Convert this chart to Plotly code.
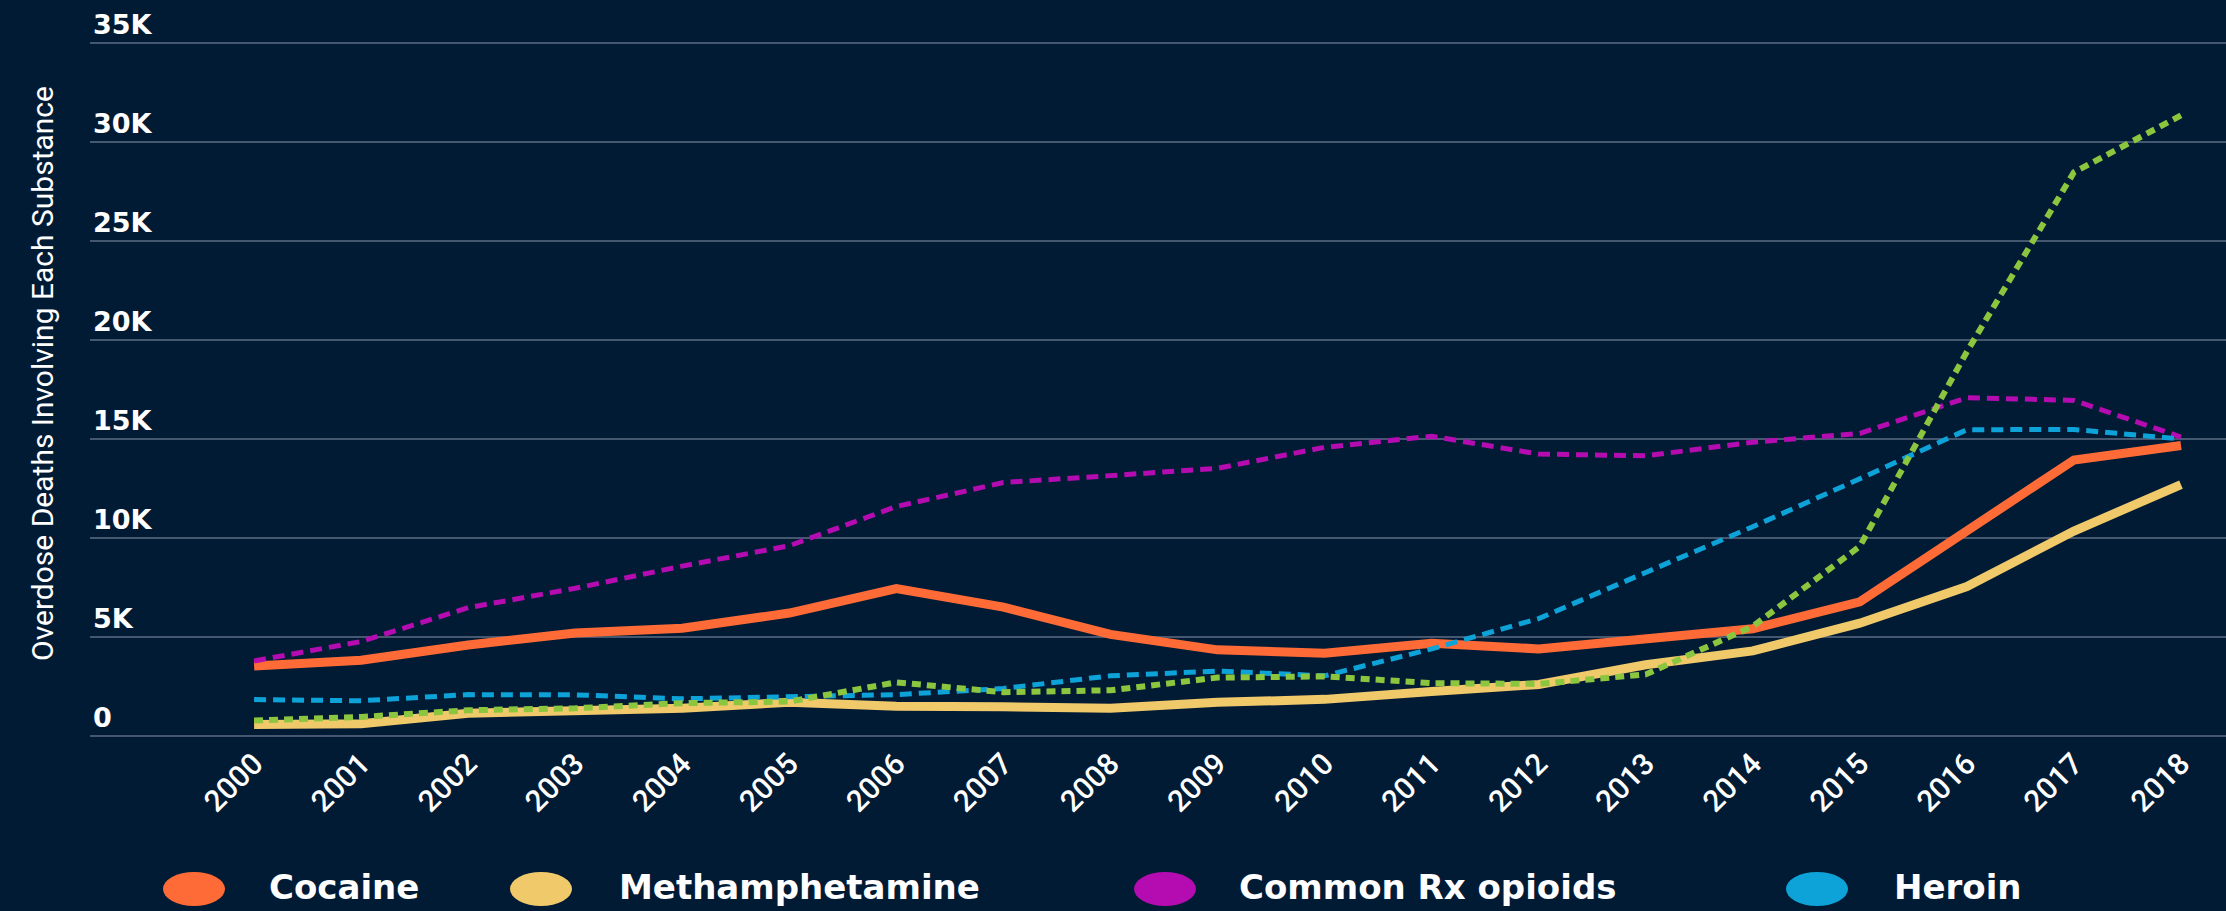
import plotly.graph_objects as go

# overdose deaths involving each substance
YEARS = list(range(2000, 2019))

COCAINE = [3540, 3830, 4600, 5200, 5440, 6210, 7450, 6510, 5130, 4350,
           4180, 4680, 4400, 4940, 5420, 6780, 10380, 13940, 14670]
METH = [580, 620, 1150, 1300, 1400, 1700, 1500, 1480, 1400, 1700,
        1850, 2250, 2600, 3600, 4300, 5700, 7550, 10350, 12700]
RX_OPIOIDS = [3790, 4770, 6480, 7460, 8580, 9610, 11590, 12800, 13150, 13520,
              14580, 15140, 14240, 14150, 14840, 15280, 17090, 16950, 15100]
HEROIN = [1840, 1780, 2090, 2080, 1880, 2010, 2090, 2400, 3040, 3280,
          3040, 4400, 5930, 8260, 10570, 12990, 15470, 15480, 15000]
SYNTHETIC = [780, 960, 1300, 1400, 1660, 1740, 2710, 2210, 2310, 2950,
             3010, 2670, 2630, 3110, 5540, 9580, 19410, 28470, 31340]

Y_TICKS = [0, 5000, 10000, 15000, 20000, 25000, 30000, 35000]
Y_TICK_LABELS = ["0", "5K", "10K", "15K", "20K", "25K", "30K", "35K"]

LEGEND_NAMES = ["Cocaine", "Methamphetamine", "Common Rx opioids", "Heroin"]


################################################################################
#### Style
################################################################################

BG = "#021b35"
GRID = "#465870"
WIDTH, HEIGHT = 2226, 911
MARGIN = dict(l=90, r=0, t=8, b=172)

SERIES_STYLE = {
    "Cocaine": dict(color="#ff6b36", width=9, dash="solid"),
    "Methamphetamine": dict(color="#f0c96a", width=9, dash="solid"),
    "Common Rx opioids": dict(color="#b40cb0", width=5, dash="12px,7px"),
    "Heroin": dict(color="#0ea3d8", width=5, dash="12px,7px"),
    "Synthetic opioids": dict(color="#8cc63f", width=6, dash="9px,6px"),
}

# pixel layout of the hand made legend row
LEGEND_DOT_X = [194, 541, 1165, 1817]
LEGEND_TEXT_X = [267, 617, 1237, 1892]
LEGEND_Y = 887


def _paper_x(px: float) -> float:
    return (px - MARGIN["l"]) / (WIDTH - MARGIN["l"] - MARGIN["r"])


def _paper_y(py: float) -> float:
    plot_h = HEIGHT - MARGIN["t"] - MARGIN["b"]
    return (HEIGHT - MARGIN["b"] - py) / plot_h


def _line(name: str, values: list[int]) -> go.Scatter:
    return go.Scatter(
        x=YEARS,
        y=values,
        name=name,
        mode="lines",
        line=dict(**SERIES_STYLE[name]),
        showlegend=False,
    )


fig = go.Figure(
    data=[
        _line("Cocaine", COCAINE),
        _line("Methamphetamine", METH),
        _line("Common Rx opioids", RX_OPIOIDS),
        _line("Heroin", HEROIN),
        _line("Synthetic opioids", SYNTHETIC),
    ]
)

# legend: wide dots + labels below the year ticks
for name, dot_x, text_x in zip(LEGEND_NAMES, LEGEND_DOT_X, LEGEND_TEXT_X):
    fig.add_shape(
        type="circle",
        xref="paper",
        yref="paper",
        x0=_paper_x(dot_x - 31),
        x1=_paper_x(dot_x + 31),
        y0=_paper_y(LEGEND_Y + 2 + 17),
        y1=_paper_y(LEGEND_Y + 2 - 17),
        fillcolor=SERIES_STYLE[name]["color"],
        line=dict(width=0),
    )
    fig.add_annotation(
        text=name,
        xref="paper",
        yref="paper",
        x=_paper_x(text_x),
        y=_paper_y(LEGEND_Y),
        xanchor="left",
        yanchor="middle",
        showarrow=False,
        font=dict(family="DejaVu Sans", size=34, color="white", weight="bold"),
    )

px_per_unit = 5000 / 99
fig.update_layout(
    width=WIDTH,
    height=HEIGHT,
    margin=MARGIN,
    paper_bgcolor=BG,
    plot_bgcolor=BG,
    showlegend=False,
    xaxis=dict(
        range=[2000 - (254 - 90) / 107, 2018 + (2226 - 2181) / 107],
        tickvals=YEARS,
        tickangle=-45,
        showgrid=False,
        zeroline=False,
        showline=False,
        ticks="",
        tickfont=dict(family="Roboto", size=30, color="white", weight=500),
    ),
    yaxis=dict(
        range=[-3 * px_per_unit, 35000 + 35 * px_per_unit],
        tickvals=Y_TICKS,
        ticktext=Y_TICK_LABELS,
        ticklabelposition="inside top",
        showgrid=True,
        gridcolor=GRID,
        gridwidth=2,
        zeroline=False,
        showline=False,
        ticks="",
        tickfont=dict(family="DejaVu Sans", size=27, color="white", weight="bold"),
        title=dict(
            text="Overdose Deaths Involving Each Substance",
            font=dict(family="Roboto", size=30, color="white"),
            standoff=30,
        ),
    ),
)

fig.write_html(
    "out.html",
    config=dict(displayModeBar=False),
    post_script="document.body.style.margin='0';"
    "document.body.style.background='" + BG + "';",
)
